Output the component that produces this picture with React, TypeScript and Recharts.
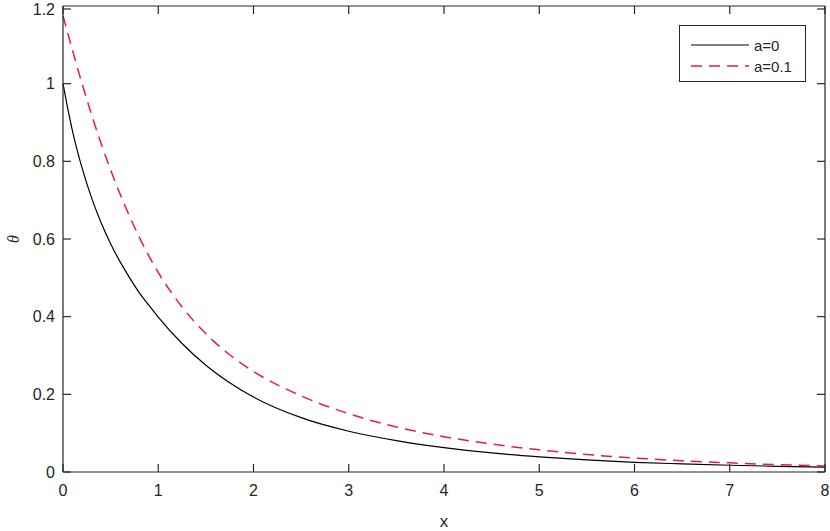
import { LineChart, Line, XAxis, YAxis, Legend, ReferenceLine } from "recharts";

// sample positions along x
const xValues = [0, 0.05, 0.1, 0.2, 0.3, 0.4, 0.5, 0.6, 0.7, 0.8, 0.9, 1, 1.25, 1.5, 1.75, 2, 2.5, 3, 3.5, 4, 4.5, 5, 5.5, 6, 6.5, 7, 7.5, 8];

// theta for a=0 (solid black)
const thetaA0 = [1.0, 0.936, 0.878, 0.783, 0.706, 0.642, 0.588, 0.541, 0.5, 0.462, 0.43, 0.399, 0.331, 0.275, 0.23, 0.193, 0.14, 0.105, 0.081, 0.063, 0.049, 0.039, 0.031, 0.025, 0.021, 0.0174, 0.0146, 0.0124];

// theta for a=0.1 (dashed red)
const thetaA01 = [1.175, 1.13, 1.086, 1.0, 0.92, 0.846, 0.778, 0.715, 0.658, 0.605, 0.557, 0.514, 0.425, 0.356, 0.302, 0.259, 0.196, 0.15, 0.116, 0.091, 0.072, 0.057, 0.045, 0.036, 0.029, 0.0235, 0.019, 0.0155];

const xTicks = [0, 1, 2, 3, 4, 5, 6, 7, 8];
const yTicks = [0, 0.2, 0.4, 0.6, 0.8, 1, 1.2];

const seriesNames = ["a=0", "a=0.1"];

const data = xValues.map((x, i) => ({ x, a0: thetaA0[i], a01: thetaA01[i] }));

const AXIS_COLOR = "#262626";
const RED = "#e8194f";
const TICK_LEN = 8;
const FONT = "'Liberation Sans', Arial, sans-serif";

// plot box edges (matches the chart margins / axis sizes below)
const PLOT_TOP = 6;
const PLOT_RIGHT = 825;

// MATLAB style: ticks point inward, on both the bottom and the top edge
const BottomTick = ({ x, y, payload }: any) => (
  <g>
    <line x1={x} y1={y} x2={x} y2={y - TICK_LEN} stroke={AXIS_COLOR} strokeWidth={1.2} />
    <line x1={x} y1={PLOT_TOP} x2={x} y2={PLOT_TOP + TICK_LEN} stroke={AXIS_COLOR} strokeWidth={1.2} />
    <text x={x} y={y + 24} textAnchor="middle" fontSize={16} fontFamily={FONT} fill={AXIS_COLOR}>
      {payload.value}
    </text>
  </g>
);

const LeftTick = ({ x, y, payload }: any) => (
  <g>
    <line x1={x} y1={y} x2={x + TICK_LEN} y2={y} stroke={AXIS_COLOR} strokeWidth={1.2} />
    <line x1={PLOT_RIGHT} y1={y} x2={PLOT_RIGHT - TICK_LEN} y2={y} stroke={AXIS_COLOR} strokeWidth={1.2} />
    <text x={x - 8} y={y + 5.5} textAnchor="end" fontSize={16} fontFamily={FONT} fill={AXIS_COLOR}>
      {payload.value}
    </text>
  </g>
);

const ThetaLabel = ({ viewBox }: any) => {
  const cx = 13;
  const cy = viewBox.y + viewBox.height / 2;
  return (
    <text
      x={cx}
      y={cy}
      transform={`rotate(-90, ${cx}, ${cy})`}
      textAnchor="middle"
      dominantBaseline="central"
      fontSize={16}
      fontStyle="italic"
      fontFamily="'Liberation Serif', serif"
      fill={AXIS_COLOR}
    >
      θ
    </text>
  );
};

const LegendBox = () => (
  <div
    style={{
      position: "relative",
      width: 127,
      height: 57,
      boxSizing: "border-box",
      border: `1px solid ${AXIS_COLOR}`,
      background: "#fff",
      fontFamily: FONT,
      fontSize: 15,
      color: AXIS_COLOR,
    }}
  >
    {seriesNames.map((name, i) => (
      <div key={name} style={{ position: "absolute", left: 11, top: 9 + i * 21, height: 20, display: "flex", alignItems: "center" }}>
        <svg width={60} height={20}>
          <line
            x1={0}
            y1={10}
            x2={58}
            y2={10}
            stroke={i === 0 ? "#000" : RED}
            strokeWidth={i === 0 ? 1.2 : 1.5}
            strokeDasharray={i === 0 ? undefined : "11 7"}
          />
        </svg>
        <span style={{ marginLeft: 3 }}>{name}</span>
      </div>
    ))}
  </div>
);

export default function App() {
  return (
    <div style={{ position: "absolute", left: 0, top: 0, background: "#fff" }}>
      <LineChart width={830} height={531} data={data} margin={{ top: PLOT_TOP, right: 830 - PLOT_RIGHT, bottom: 0, left: 0 }}>
        <XAxis
          dataKey="x"
          type="number"
          domain={[0, 8]}
          ticks={xTicks}
          height={59}
          tickSize={0}
          tickMargin={0}
          tickLine={false}
          tick={<BottomTick />}
          axisLine={{ stroke: AXIS_COLOR, strokeWidth: 1.2 }}
          label={{ value: "x", position: "insideBottom", offset: 4, style: { fontSize: 17, fontFamily: FONT, fill: AXIS_COLOR } }}
        />
        <YAxis
          type="number"
          domain={[0, 1.2]}
          ticks={yTicks}
          width={63}
          tickSize={0}
          tickMargin={0}
          tickLine={false}
          tick={<LeftTick />}
          axisLine={{ stroke: AXIS_COLOR, strokeWidth: 1.2 }}
          label={<ThetaLabel />}
        />
        {/* box frame: top and right edges */}
        <ReferenceLine y={1.2} stroke={AXIS_COLOR} strokeWidth={1.2} />
        <ReferenceLine x={8} stroke={AXIS_COLOR} strokeWidth={1.2} />
        <Legend
          layout="vertical"
          align="center"
          verticalAlign="middle"
          content={<LegendBox />}
          wrapperStyle={{ left: 679, top: 25, width: 127 }}
        />
        <Line
          type="monotone"
          dataKey="a0"
          name={seriesNames[0]}
          stroke="#000"
          strokeWidth={1.2}
          dot={false}
          isAnimationActive={false}
        />
        <Line
          type="monotone"
          dataKey="a01"
          name={seriesNames[1]}
          stroke={RED}
          strokeWidth={1.5}
          strokeDasharray="11 7"
          dot={false}
          isAnimationActive={false}
        />
      </LineChart>
    </div>
  );
}
